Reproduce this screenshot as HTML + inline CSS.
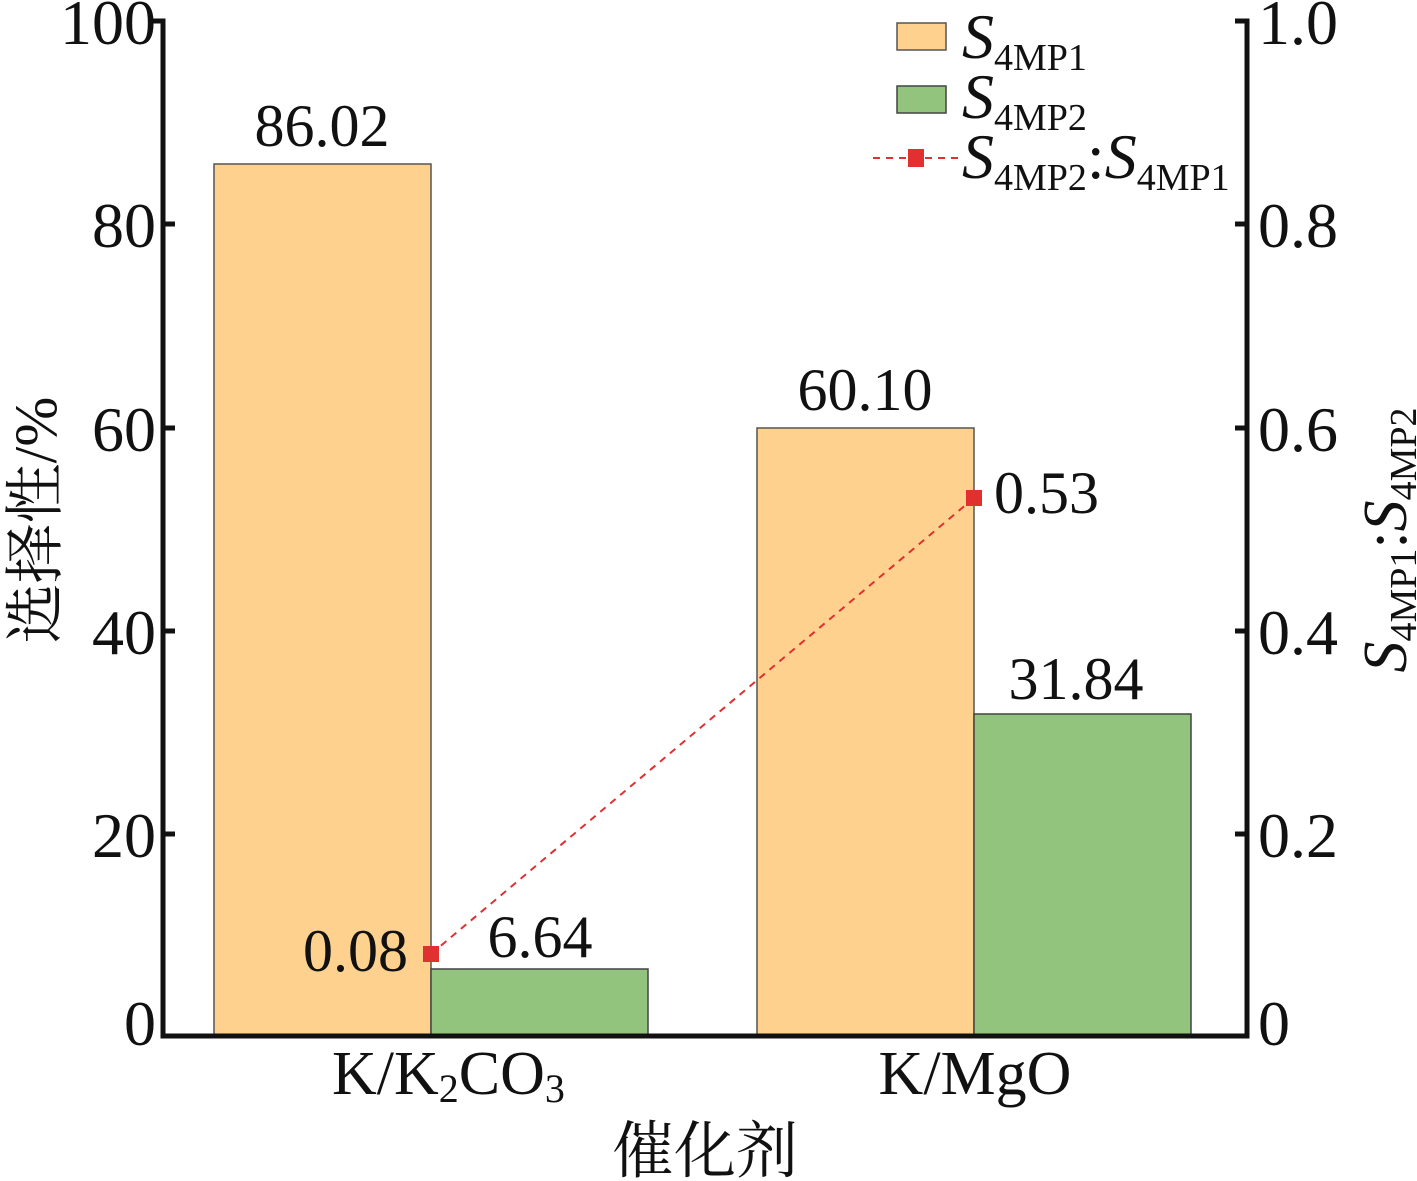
<!DOCTYPE html>
<html><head><meta charset="utf-8"><style>
html,body{margin:0;padding:0;background:#fff}
svg{display:block}
text{font-family:"Liberation Serif","Noto Serif CJK SC",serif;fill:#111}
</style></head><body>
<svg width="1417" height="1181" viewBox="0 0 1417 1181" xmlns="http://www.w3.org/2000/svg">
<rect x="214" y="164" width="217" height="872" fill="#fed18f" stroke="#555" stroke-width="1.5"/>
<rect x="431" y="969" width="217" height="67" fill="#93c47d" stroke="#444" stroke-width="1.5"/>
<rect x="757" y="428" width="217" height="608" fill="#fed18f" stroke="#555" stroke-width="1.5"/>
<rect x="974" y="714" width="217" height="322" fill="#93c47d" stroke="#444" stroke-width="1.5"/>
<line x1="431" y1="954" x2="974" y2="498" stroke="#e03030" stroke-width="2" stroke-dasharray="7,6"/>
<rect x="423" y="946" width="16" height="16" fill="#e03030"/>
<rect x="966" y="490" width="16" height="16" fill="#e03030"/>
<path d="M151 21 H163 V1036 H1247 V21 H1235" fill="none" stroke="#111" stroke-width="5"/>
<g stroke="#111" stroke-width="5">
<line x1="163" y1="224" x2="175" y2="224"/><line x1="163" y1="428" x2="175" y2="428"/>
<line x1="163" y1="631" x2="175" y2="631"/><line x1="163" y1="834" x2="175" y2="834"/>
<line x1="1235" y1="224" x2="1247" y2="224"/><line x1="1235" y1="428" x2="1247" y2="428"/>
<line x1="1235" y1="631" x2="1247" y2="631"/><line x1="1235" y1="834" x2="1247" y2="834"/>
</g>
<g font-size="64" text-anchor="end">
<text x="156" y="44">100</text><text x="156" y="247">80</text><text x="156" y="451">60</text>
<text x="156" y="654">40</text><text x="156" y="857">20</text><text x="156" y="1045">0</text>
</g>
<g font-size="64">
<text x="1258" y="44">1.0</text><text x="1258" y="247">0.8</text><text x="1258" y="451">0.6</text>
<text x="1258" y="654">0.4</text><text x="1258" y="857">0.2</text><text x="1258" y="1045">0</text>
</g>
<g font-size="60" text-anchor="middle">
<text x="322" y="146">86.02</text><text x="540" y="957">6.64</text>
<text x="865" y="410">60.10</text><text x="1076" y="699">31.84</text>
</g>
<text x="408" y="971" font-size="60" text-anchor="end">0.08</text>
<text x="994" y="513" font-size="60">0.53</text>
<text x="332" y="1094" font-size="62">K/K<tspan font-size="40" dy="8">2</tspan><tspan dy="-8">CO</tspan><tspan font-size="40" dy="8">3</tspan></text>
<text x="975" y="1094" font-size="62" text-anchor="middle">K/MgO</text>
<text x="705" y="1172" font-size="62" text-anchor="middle">催化剂</text>
<text transform="translate(56,520) rotate(-90)" font-size="60" text-anchor="middle">选择性/%</text>
<text transform="translate(1406,540) rotate(-90)" font-size="62" text-anchor="middle" font-style="italic">S<tspan font-style="normal" font-size="38" dy="10">4MP1</tspan><tspan font-style="normal" dy="-10">:</tspan>S<tspan font-style="normal" font-size="38" dy="10">4MP2</tspan></text>
<rect x="897" y="23" width="49" height="27" fill="#fed18f" stroke="#555" stroke-width="1.5"/>
<rect x="897" y="86" width="49" height="27" fill="#93c47d" stroke="#444" stroke-width="1.5"/>
<line x1="873" y1="158" x2="960" y2="158" stroke="#e03030" stroke-width="2" stroke-dasharray="7,6"/>
<rect x="908" y="149" width="16" height="18" fill="#e03030"/>
<g font-size="64">
<text x="962" y="58" font-style="italic">S<tspan font-style="normal" font-size="38" dy="12">4MP1</tspan></text>
<text x="962" y="118" font-style="italic">S<tspan font-style="normal" font-size="38" dy="12">4MP2</tspan></text>
<text x="962" y="178" font-style="italic">S<tspan font-style="normal" font-size="38" dy="12">4MP2</tspan><tspan font-style="normal" dy="-12">:</tspan>S<tspan font-style="normal" font-size="38" dy="12">4MP1</tspan></text>
</g>
</svg>
</body></html>
